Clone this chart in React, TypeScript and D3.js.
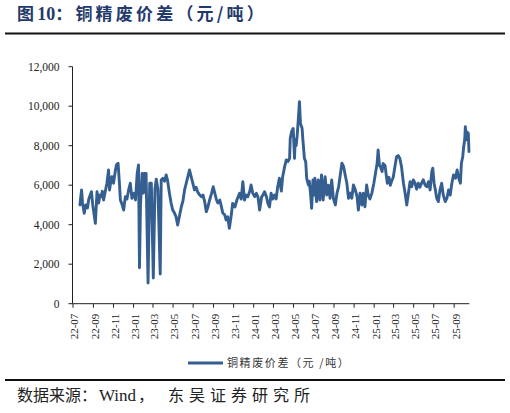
import React from "react";
import * as d3 from "d3";

const dates: string[] = [
  "2022-07-22","2022-07-27","2022-07-30","2022-08-04","2022-08-09","2022-08-14","2022-08-18","2022-08-26","2022-08-30","2022-09-07",
  "2022-09-12","2022-09-17","2022-09-21","2022-09-25","2022-09-28","2022-10-02","2022-10-06","2022-10-12","2022-10-17","2022-10-20",
  "2022-10-24","2022-10-27","2022-11-01","2022-11-07","2022-11-10","2022-11-15","2022-11-19","2022-11-22","2022-11-26","2022-12-02",
  "2022-12-07","2022-12-12","2022-12-17","2022-12-22","2022-12-27","2023-01-02","2023-01-07","2023-01-12","2023-01-16","2023-01-19",
  "2023-01-22","2023-01-27","2023-01-31","2023-02-03","2023-02-08","2023-02-14","2023-02-19","2023-02-24","2023-03-02","2023-03-07",
  "2023-03-11","2023-03-16","2023-03-23","2023-03-26","2023-03-31","2023-04-05","2023-04-10","2023-04-14","2023-04-20","2023-04-25",
  "2023-04-30","2023-05-05","2023-05-10","2023-05-15","2023-05-20","2023-05-26","2023-05-31","2023-06-05","2023-06-10","2023-06-15",
  "2023-06-20","2023-06-25","2023-06-30","2023-07-05","2023-07-10","2023-07-15","2023-07-21","2023-07-26","2023-07-31","2023-08-05",
  "2023-08-10","2023-08-15","2023-08-20","2023-08-26","2023-08-31","2023-09-05","2023-09-10","2023-09-14","2023-09-20","2023-09-25",
  "2023-09-29","2023-10-05","2023-10-09","2023-10-14","2023-10-19","2023-10-25","2023-10-29","2023-11-05","2023-11-11","2023-11-19",
  "2023-11-24","2023-11-29","2023-12-04","2023-12-09","2023-12-14","2023-12-20","2023-12-24","2023-12-29","2024-01-04","2024-01-09",
  "2024-01-14","2024-01-19","2024-01-25","2024-01-29","2024-02-03","2024-02-09","2024-02-13","2024-02-18","2024-02-23","2024-02-28",
  "2024-03-04","2024-03-09","2024-03-14","2024-03-19","2024-03-25","2024-03-29","2024-04-04","2024-04-09","2024-04-14","2024-04-19",
  "2024-04-21","2024-04-25","2024-04-30","2024-05-04","2024-05-06","2024-05-09","2024-05-12","2024-05-15","2024-05-19","2024-05-22",
  "2024-05-27","2024-05-29","2024-06-03","2024-06-07","2024-06-10","2024-06-15","2024-06-18","2024-06-22","2024-06-25","2024-06-29",
  "2024-07-02","2024-07-05","2024-07-10","2024-07-15","2024-07-20","2024-07-25","2024-07-30","2024-08-05","2024-08-10","2024-08-15",
  "2024-08-20","2024-08-25","2024-08-30","2024-09-05","2024-09-10","2024-09-15","2024-09-20","2024-09-25","2024-09-30","2024-10-05",
  "2024-10-10","2024-10-15","2024-10-20","2024-10-25","2024-10-30","2024-11-04","2024-11-10","2024-11-14","2024-11-19","2024-11-25",
  "2024-11-29","2024-12-04","2024-12-09","2024-12-14","2024-12-19","2024-12-25","2024-12-31","2025-01-05","2025-01-10","2025-01-13",
  "2025-01-17","2025-01-20","2025-01-25","2025-01-28","2025-02-03","2025-02-06","2025-02-10","2025-02-15","2025-02-19","2025-02-23",
  "2025-02-28","2025-03-05","2025-03-10","2025-03-15","2025-03-20","2025-03-25","2025-03-31","2025-04-05","2025-04-10","2025-04-15",
  "2025-04-20","2025-04-25","2025-04-30","2025-05-05","2025-05-10","2025-05-15","2025-05-20","2025-05-25","2025-05-30","2025-06-05",
  "2025-06-10","2025-06-15","2025-06-20","2025-06-25","2025-06-28","2025-07-02","2025-07-06","2025-07-10","2025-07-15","2025-07-20",
  "2025-07-25","2025-07-30","2025-08-05","2025-08-10","2025-08-15","2025-08-20","2025-08-25","2025-08-30","2025-09-05","2025-09-10",
  "2025-09-15","2025-09-20","2025-09-23","2025-09-27","2025-09-30","2025-10-03","2025-10-05","2025-10-08","2025-10-10","2025-10-14",
  "2025-10-16",
];

const values: number[] = [
  5000,5760,5100,4575,5000,4850,5300,5670,5000,4070,
  5670,5100,5500,5420,5700,5250,5590,6100,6770,5760,
  6200,6430,6100,6770,7020,7110,6100,5250,5080,4740,
  5420,5300,5760,6100,5340,5590,5250,6600,7020,1820,
  5000,6600,5600,6600,6600,1050,6100,6100,1300,5800,
  6300,5800,1500,6260,6350,6200,6520,6270,5590,5100,
  4740,4600,4400,3985,4400,4900,5200,5760,6100,6430,
  6770,6430,6100,5760,5900,5650,5500,5420,5500,5170,
  4660,4900,5250,5590,5920,5590,5250,5100,5250,4900,
  4590,4500,4240,4400,3820,4500,5080,4900,5250,5590,
  5300,6180,5250,5500,5420,5700,6010,5600,5420,5590,
  5400,4740,5400,5500,5670,5400,5080,4900,5590,5300,
  5500,5300,5920,6350,5700,6430,6940,7280,7200,7360,
  8370,8710,8870,7360,8300,8000,8500,9210,10230,9130,
  8880,8400,7360,7190,6350,6010,6200,5500,4830,6260,
  5500,6350,5170,6260,5250,6520,5250,6430,5500,6000,
  5340,6270,5340,5000,5600,5920,6520,7110,6950,6520,
  6100,5340,5600,5340,6010,5800,5420,4740,5600,5000,
  5600,4910,6010,5500,5300,5600,6100,6600,7110,7780,
  7000,6940,6690,7100,7000,6600,6100,6400,6000,6200,
  6400,6940,7440,7500,7350,6940,6100,5590,5000,5590,
  6180,5920,6270,6100,5800,6100,5900,6100,6270,6000,
  5920,6180,5760,6690,6860,6100,5760,5340,5170,5760,
  6100,5500,5170,5340,5760,5500,6100,6520,6350,6770,
  6350,6100,7110,7440,7950,8290,8960,8300,8700,8630,
  7700,
];

const yTicks: number[] = [0, 2000, 4000, 6000, 8000, 10000, 12000];
const axisStart = "2022-07-01";
const axisEnd = "2025-10-17";
const lastTick = "2025-09-30";
const titleText = "图10：铜精废价差（元/吨）";
const seriesName = "铜精废价差（元 /吨）";
const sourceHead = "数据来源：";
const sourceWind = "Wind";
const sourceComma = "，";
const sourceTail = "东吴证券研究所";

const parse = d3.timeParse("%Y-%m-%d");
const fmt = d3.timeFormat("%y-%m");

export default function App() {
  const W = 510, H = 413;
  const left = 72.5, right = 469.3, top = 66.7, bottom = 303.7;
  const x = d3.scaleTime().domain([parse(axisStart)!, parse(axisEnd)!]).range([left + 0.5, right]);
  const y = d3.scaleLinear().domain([0, 12000]).range([bottom, top]);
  const pts = dates.map((d, i) => [parse(d)!, values[i]] as [Date, number]);
  const line = d3.line<[Date, number]>().x(d => x(d[0])).y(d => y(d[1]));
  const xTicks = x.ticks(d3.timeMonth.every(2)!).filter(d => d <= parse(lastTick)!);
  const serif = "'Times New Roman', 'Liberation Serif', serif";
  const cjk = "'Noto Sans CJK SC', sans-serif";
  const lineColor = "#365F91";
  const titleParts = titleText.split(/(10)/);
  return (
    <div style={{ position: "absolute", left: 0, top: 0, width: W, height: H, background: "#fff" }}>
      <svg width={W} height={H} viewBox={`0 0 ${W} ${H}`} style={{ display: "block" }}>
        <rect x={0} y={0} width={W} height={H} fill="#fff" />
        <text x={17} y={20} fill="#1F3A6B" fontSize={17} fontWeight={700} fontFamily={cjk} letterSpacing={3.2}>
          {titleParts.map((p, i) =>
            p === "10" ? (
              <tspan key={i} fontFamily={serif} fontSize={18} letterSpacing={0}>{p}</tspan>
            ) : (
              <tspan key={i}>{p}</tspan>
            )
          )}
        </text>
        <line x1={5} x2={505} y1={33.5} y2={33.5} stroke="#111" strokeWidth={2} />

        {/* y axis */}
        <line x1={left} x2={left} y1={top} y2={bottom} stroke="#222" strokeWidth={1} />
        {yTicks.map(t => (
          <g key={t}>
            <line x1={left - 4} x2={left} y1={y(t)} y2={y(t)} stroke="#222" strokeWidth={1} />
            <text x={left - 13} y={y(t)} dy="0.35em" textAnchor="end" fontFamily={serif} fontSize={11.5} fill="#222">
              {d3.format(",")(t)}
            </text>
          </g>
        ))}

        {/* x axis */}
        <line x1={left} x2={right} y1={bottom} y2={bottom} stroke="#222" strokeWidth={1} />
        {xTicks.map(t => {
          const tx = x(t);
          return (
            <g key={+t}>
              <line x1={tx} x2={tx} y1={bottom} y2={bottom + 4} stroke="#222" strokeWidth={1} />
              <text
                transform={`translate(${tx + 1.5},${bottom + 10}) rotate(-90)`}
                dy="0.35em"
                textAnchor="end"
                fontFamily={serif}
                fontSize={11}
                fill="#222"
              >
                {fmt(t)}
              </text>
            </g>
          );
        })}

        <path d={line(pts) || ""} fill="none" stroke={lineColor} strokeWidth={2.9} strokeLinejoin="round" strokeLinecap="round" />

        {/* legend */}
        <line x1={188} x2={223} y1={363} y2={363} stroke={lineColor} strokeWidth={3} />
        <text x={227} y={363} dy="0.35em" fontFamily={cjk} fontSize={11} fill="#333" letterSpacing={1.6}>
          {seriesName}
        </text>

        <line x1={5} x2={505} y1={380} y2={380} stroke="#111" strokeWidth={2} />
        <g fill="#222">
          <text x={17} y={401} fontFamily={cjk} fontSize={16}>{sourceHead}</text>
          <text x={99} y={401} fontFamily={serif} fontSize={17}>{sourceWind}</text>
          <text x={138} y={401} fontFamily={cjk} fontSize={16}>{sourceComma}</text>
          <text x={168} y={401} fontFamily={cjk} fontSize={16} letterSpacing={5}>{sourceTail}</text>
        </g>
      </svg>
    </div>
  );
}
